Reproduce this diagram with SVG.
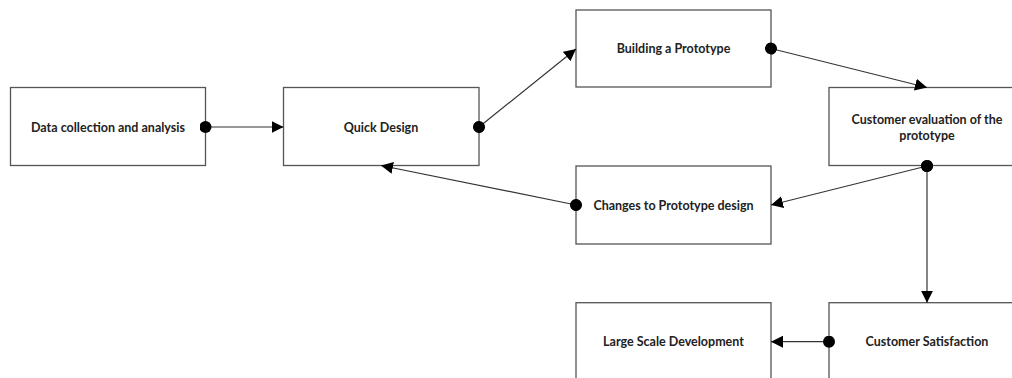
<svg xmlns="http://www.w3.org/2000/svg" width="1012" height="378" viewBox="0 0 1012 378">
<style>
.box{fill:#fff;stroke:#555;stroke-width:1.3}
.lbl{font-family:Lato,"Liberation Sans",sans-serif;font-weight:bold;font-size:12.5px;fill:#222;text-anchor:middle}
.edge{stroke:#333;stroke-width:1.2;fill:none;marker-start:url(#dot);marker-end:url(#arr)}
</style>
<defs>
<marker id="arr" viewBox="0 0 12 12" refX="12" refY="6" markerWidth="12" markerHeight="12" markerUnits="userSpaceOnUse" orient="auto">
<path d="M0,0 L12,6 L0,12 Z" fill="#000"/>
</marker>
<marker id="dot" viewBox="0 0 12 12" refX="6" refY="6" markerWidth="12" markerHeight="12" markerUnits="userSpaceOnUse" orient="auto">
<circle cx="6" cy="6" r="6" fill="#000"/>
</marker>
</defs>
<rect width="1012" height="378" fill="#fff"/>
<g id="n-data"><rect class="box" x="10.5" y="87.5" width="195" height="78"/><text class="lbl" x="108" y="131.5">Data collection and analysis</text></g>
<g id="n-quick"><rect class="box" x="283.5" y="87.5" width="195.5" height="78"/><text class="lbl" x="381" y="131.5">Quick Design</text></g>
<g id="n-build"><rect class="box" x="576" y="10" width="195" height="77"/><text class="lbl" x="673.5" y="53">Building a Prototype</text></g>
<g id="n-eval"><rect class="box" x="829" y="87.5" width="195" height="78"/><text class="lbl" x="927" y="123.5">Customer evaluation of the</text><text class="lbl" x="927" y="140">prototype</text></g>
<g id="n-changes"><rect class="box" x="576" y="166" width="195" height="78"/><text class="lbl" x="673.5" y="209.5">Changes to Prototype design</text></g>
<g id="n-large"><rect class="box" x="576" y="302.7" width="195" height="78"/><text class="lbl" x="673.5" y="346">Large Scale Development</text></g>
<g id="n-sat"><rect class="box" x="829" y="302.7" width="195" height="78"/><text class="lbl" x="927" y="346">Customer Satisfaction</text></g>
<g id="connectors">
<line class="edge" x1="205.5" y1="127" x2="283.5" y2="127"/>
<line class="edge" x1="479" y1="127" x2="576" y2="49"/>
<line class="edge" x1="771" y1="48.5" x2="927" y2="87.5"/>
<line class="edge" x1="927" y1="166" x2="771" y2="205"/>
<line class="edge" x1="576" y1="205" x2="381" y2="165.5"/>
<line class="edge" x1="927" y1="166" x2="927" y2="302.7"/>
<line class="edge" x1="829" y1="341.7" x2="771" y2="341.7"/>
</g>
</svg>
